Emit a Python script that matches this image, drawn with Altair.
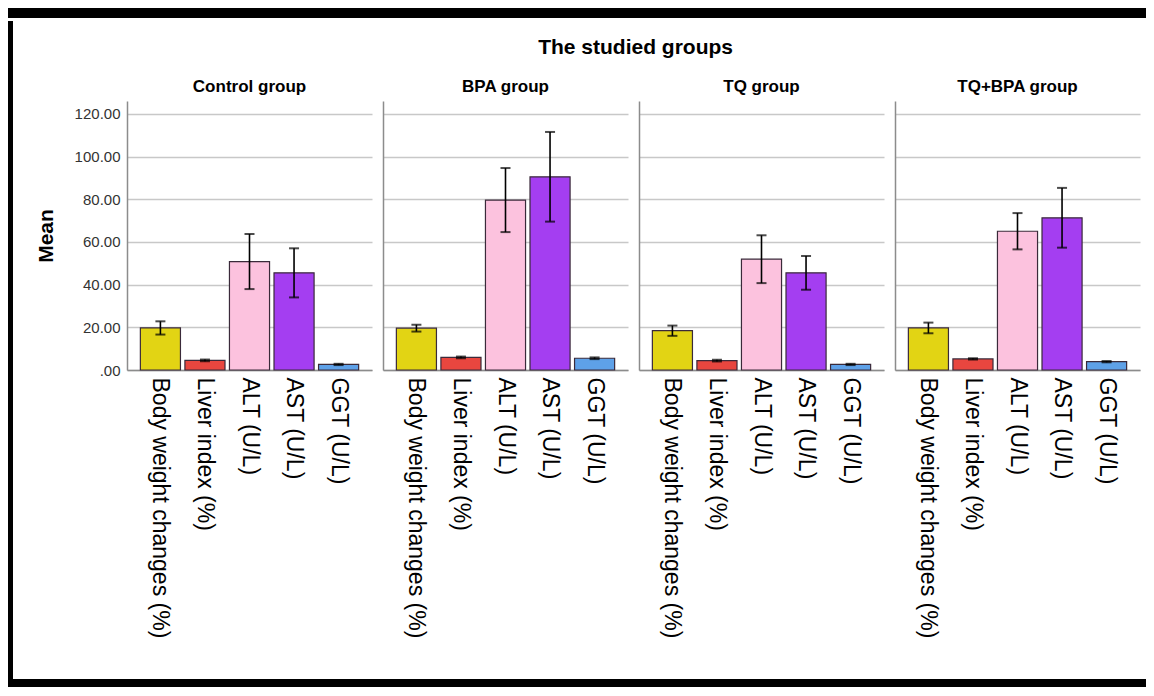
import altair as alt
import pandas as pd

groups = ["Control group", "BPA group", "TQ group", "TQ+BPA group"]
variables = ["Body weight changes (%)", "Liver index (%)", "ALT (U/L)", "AST (U/L)", "GGT (U/L)"]
colors = ["#e2d414", "#e8463f", "#fcc2de", "#a43ef1", "#5ea1e8"]

mean_control = [19.7, 4.5, 50.8, 45.5, 2.6]
mean_bpa = [19.6, 5.9, 79.6, 90.5, 5.5]
mean_tq = [18.4, 4.4, 51.9, 45.5, 2.6]
mean_tqbpa = [19.7, 5.2, 65.0, 71.3, 3.9]

err_control = [3.1, 0.4, 12.9, 11.5, 0.3]
err_bpa = [1.6, 0.4, 15.0, 21.0, 0.4]
err_tq = [2.4, 0.4, 11.2, 7.9, 0.3]
err_tqbpa = [2.5, 0.3, 8.5, 14.0, 0.3]

y_ticks = [0, 20, 40, 60, 80, 100, 120]

means = [mean_control, mean_bpa, mean_tq, mean_tqbpa]
errs = [err_control, err_bpa, err_tq, err_tqbpa]

rows = []
for g, ms, es in zip(groups, means, errs):
    for v, m, e in zip(variables, ms, es):
        rows.append({"group": g, "variable": v, "mean": m, "low": m - e, "high": m + e})
df = pd.DataFrame(rows)

FONT = "Liberation Sans"
NARROW = "Liberation Sans Narrow, Liberation Sans"

panels = []
for i, g in enumerate(groups):
    sub = df[df["group"] == g]
    base = alt.Chart(sub)
    xenc = alt.X(
        "variable:N",
        sort=variables,
        scale=alt.Scale(paddingInner=0.1, paddingOuter=0.3),
        axis=alt.Axis(
            title=None, labelAngle=90, labelFontSize=23, labelColor="black",
            labelLimit=400, labelPadding=7, ticks=False, labelOverlap=False,
            domainColor="#8c8c8c", domainWidth=1.5, labelFont=FONT,
        ),
    )
    yaxis = alt.Axis(
        title="Mean" if i == 0 else None,
        values=y_ticks,
        labels=(i == 0),
        labelExpr="datum.value == 0 ? '.00' : format(datum.value, '.2f')",
        ticks=False,
        grid=True, gridColor="#c8c8c8", gridWidth=1.5,
        domainColor="#8c8c8c", domainWidth=1.5,
        labelFontSize=15, labelColor="#333333", labelPadding=7, labelFont=FONT,
        titleFontSize=21, titleFontWeight="bold", titleColor="black",
        titlePadding=18, titleFont=FONT,
    )
    yscale = alt.Scale(domain=[0, 126], nice=False, zero=True)
    bars = base.mark_bar(stroke="#3a2a3a", strokeWidth=1.2).encode(
        x=xenc,
        y=alt.Y("mean:Q", scale=yscale, axis=yaxis),
        color=alt.Color("variable:N", scale=alt.Scale(domain=variables, range=colors), legend=None),
    )
    rule = base.mark_rule(color="black", strokeWidth=1.6).encode(
        x=xenc, y=alt.Y("low:Q", scale=yscale, axis=yaxis), y2="high:Q"
    )
    cap_lo = base.mark_tick(color="black", size=10, thickness=2, orient="horizontal").encode(
        x=xenc, y=alt.Y("low:Q", scale=yscale, axis=yaxis)
    )
    cap_hi = base.mark_tick(color="black", size=10, thickness=2, orient="horizontal").encode(
        x=xenc, y=alt.Y("high:Q", scale=yscale, axis=yaxis)
    )
    layer = alt.layer(bars, rule, cap_lo, cap_hi).properties(
        width=245, height=269,
        title=alt.TitleParams(g, fontSize=17, fontWeight="bold", font=NARROW,
                              offset=5, color="black", anchor="middle"),
    )
    panels.append(layer)

panel_row = alt.hconcat(
    *panels, spacing=11,
    title=alt.TitleParams("The studied groups", fontSize=21, fontWeight="bold", font=FONT,
                          color="black", offset=20, anchor="middle", dx=48),
)

dummy = pd.DataFrame({"a": [0]})

def block(w, h, color):
    return alt.Chart(dummy).mark_rect(color=color).encode(
        x=alt.value(0), x2=alt.value(w), y=alt.value(0), y2=alt.value(h)
    ).properties(width=w, height=h)

spacer = alt.Chart(dummy).mark_point(opacity=0).encode(
    x=alt.value(0), y=alt.value(0)
).properties(width=5, height=16)

inner = alt.vconcat(spacer, panel_row, spacing=0)
middle = alt.hconcat(block(5, 658, "black"), inner, spacing=22)
chart = alt.vconcat(
    block(1138, 10, "black"), middle, block(1138, 8, "black"), spacing=0
).properties(padding=0).configure(font=FONT).configure_view(stroke=None)

chart.save("out.html", embed_options={"renderer": "svg", "actions": False})
